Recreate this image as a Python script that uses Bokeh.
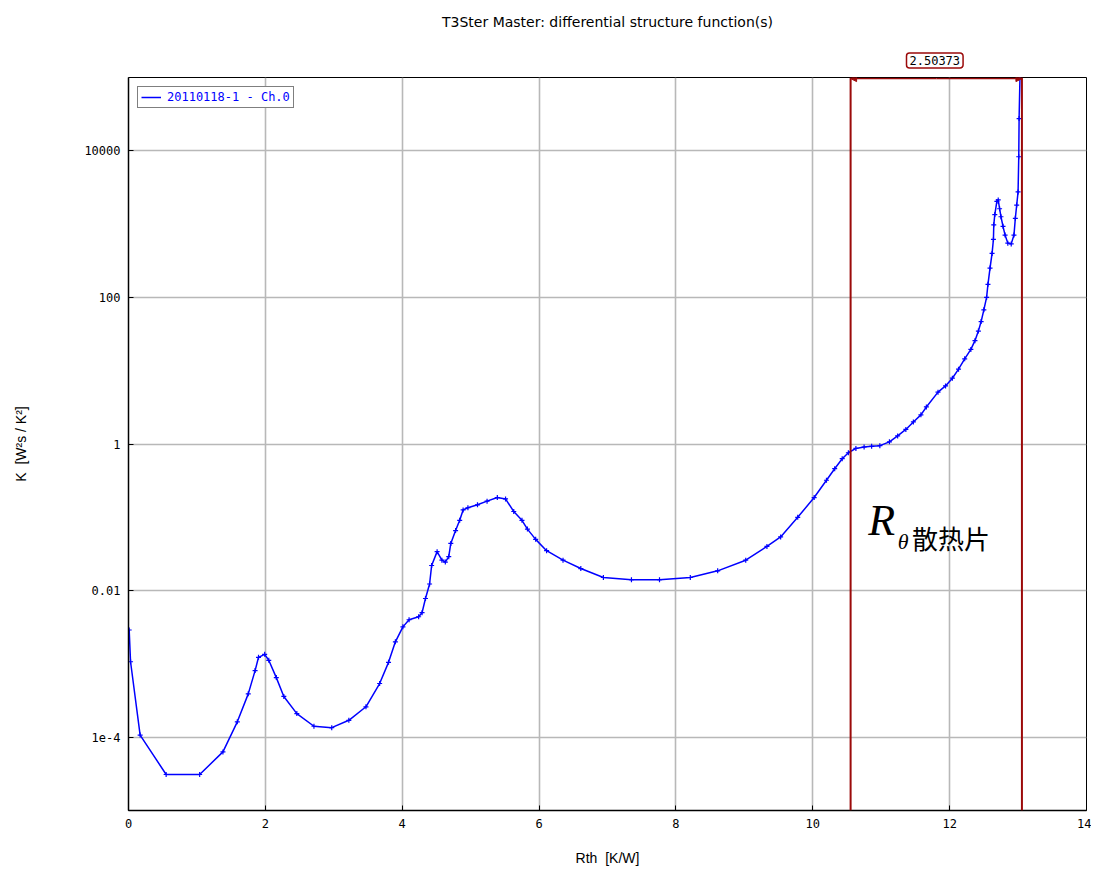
from bokeh.plotting import figure
from bokeh.models import (Range1d, FixedTicker, Span, Label, Title,
                          Arrow, NormalHead, Legend, LegendItem, ColumnDataSource)
from bokeh.embed import file_html
from bokeh.resources import INLINE

# ---------------- data ----------------
rth = [0.01, 0.03, 0.17, 0.55, 1.04, 1.38, 1.59, 1.75, 1.85, 1.90, 1.99, 2.05, 2.16, 2.27,
       2.46, 2.71, 2.97, 3.22, 3.47, 3.67, 3.80, 3.90, 4.01, 4.10, 4.24, 4.29, 4.34, 4.40,
       4.43, 4.51, 4.58, 4.63, 4.68, 4.71, 4.78, 4.84, 4.89, 4.96, 5.10, 5.24, 5.39, 5.51,
       5.63, 5.75, 5.83, 5.95, 6.11, 6.35, 6.61, 6.94, 7.35, 7.76, 8.21, 8.61, 9.02, 9.33,
       9.53, 9.78, 10.02, 10.20, 10.32, 10.43, 10.52, 10.63, 10.75, 10.86, 10.98, 11.12,
       11.24, 11.36, 11.47, 11.58, 11.66, 11.83, 11.94, 12.04, 12.13, 12.22, 12.31, 12.37,
       12.42, 12.46, 12.50, 12.54, 12.56, 12.59, 12.62, 12.64, 12.645, 12.66, 12.69, 12.71,
       12.73, 12.75, 12.78, 12.81, 12.85, 12.90, 12.94, 12.96, 12.98, 13.00, 13.01, 13.015,
       13.03]
k_val = [2.9e-3, 1.07e-3, 1.07e-4, 3.1e-5, 3.1e-5, 6.3e-5, 1.62e-4, 3.9e-4, 8.1e-4, 1.23e-3,
         1.35e-3, 1.12e-3, 6.5e-4, 3.6e-4, 2.1e-4, 1.41e-4, 1.35e-4, 1.7e-4, 2.6e-4, 5.4e-4,
         1.05e-3, 2.0e-3, 3.2e-3, 4.0e-3, 4.4e-3, 5.0e-3, 7.8e-3, 1.23e-2, 2.2e-2, 3.4e-2,
         2.6e-2, 2.45e-2, 2.9e-2, 4.4e-2, 6.6e-2, 9.1e-2, 0.126, 0.135, 0.148, 0.166, 0.186,
         0.178, 0.12, 0.091, 0.069, 0.050, 0.035, 0.026, 0.020, 0.0151, 0.0141, 0.0141,
         0.0151, 0.0186, 0.026, 0.040, 0.054, 0.10, 0.186, 0.32, 0.46, 0.63, 0.76, 0.87,
         0.91, 0.93, 0.95, 1.07, 1.29, 1.58, 2.0, 2.5, 3.2, 5.1, 6.2, 7.9, 10.5, 14.5, 19.5,
         25.7, 34.7, 46.8, 67.6, 100, 151, 251, 398, 617, 977, 1350, 2040, 2140, 1620, 1260,
         933, 708, 550, 537, 708, 1200, 1820, 2750, 8300, 27500, 126000]

series_label = "20110118-1 - Ch.0"
x_ticks = [0, 2, 4, 6, 8, 10, 12, 14]
y_ticks = [1e-4, 1e-2, 1, 100, 10000]
y_tick_labels = ["1e-4", "0.01", "1", "100", "10000"]
cursor_positions = [10.5527, 13.0564]
cursor_delta_text = ["2.50373"]
title_text = "T3Ster Master: differential structure function(s)"
x_label = "Rth\u00a0\u00a0[K/W]"
y_label = "K\u00a0\u00a0[W²s / K²]"

# ---------------- figure ----------------
RED = "#9b0a0a"
BLUE = "#0000ff"
MONO = "DejaVu Sans Mono"
SANS = "Liberation Sans"

p = figure(width=1091, height=868, x_range=Range1d(0, 14), y_range=Range1d(1e-5, 1e5),
           y_axis_type="log", output_backend="svg", toolbar_location=None,
           min_border_left=128, min_border_right=5, min_border_top=76, min_border_bottom=56)
p.background_fill_color = "white"
p.border_fill_color = "white"
p.outline_line_color = "black"
p.outline_line_width = 1

# cursor delta box (placed above the frame, next to it)
box_title = Title(text=cursor_delta_text[0], align="left", offset=778, standoff=19,
                  text_font=MONO, text_font_size="12px", text_font_style="normal",
                  text_color="black", border_line_color=RED, border_line_width=1.5,
                  background_fill_color="white", padding=3, border_radius=3)
p.add_layout(box_title, "above")
main_title = Title(text=title_text, align="center", offset=-26, standoff=23,
                   text_font="DejaVu Sans", text_font_size="14px", text_font_style="normal",
                   text_color="black")
p.add_layout(main_title, "above")

# axes
xa = p.xaxis[0]
xa.ticker = FixedTicker(ticks=x_ticks)
ya = p.yaxis[0]
ya.ticker = FixedTicker(ticks=y_ticks)
ya.major_label_overrides = dict(zip(y_ticks, y_tick_labels))
for ax in (xa, ya):
    ax.major_tick_in = 5
    ax.major_tick_out = 0
    ax.minor_tick_line_color = None
    ax.axis_line_color = "black"
    ax.axis_line_width = 1.5
    ax.major_tick_line_color = "black"
    ax.major_label_text_font = MONO
    ax.major_label_text_font_size = "12px"
    ax.major_label_text_color = "black"
    ax.axis_label_text_font = SANS
    ax.axis_label_text_font_size = "14px"
    ax.axis_label_text_font_style = "normal"
    ax.axis_label_text_color = "black"
xa.axis_label = x_label
xa.major_label_standoff = 8
xa.axis_label_standoff = 19
ya.axis_label = y_label
ya.major_label_standoff = 8
ya.axis_label_standoff = 52

# grid
p.xgrid.ticker = FixedTicker(ticks=x_ticks)
p.ygrid.ticker = FixedTicker(ticks=y_ticks)
for g in (p.xgrid[0], p.ygrid[0]):
    g.grid_line_color = "#b8b8b8"
    g.grid_line_width = 1.6

# data
src = ColumnDataSource(dict(x=rth, y=k_val))
line_r = p.line("x", "y", source=src, line_color=BLUE, line_width=1.5)
p.scatter("x", "y", source=src, marker="cross", size=5, line_color=BLUE, line_width=1.2)

# cursors
for c in cursor_positions:
    p.add_layout(Span(location=c, dimension="height", line_color=RED, line_width=2))
dim_y = 10 ** 4.985
mid_x = sum(cursor_positions) / 2
for c in cursor_positions:
    p.add_layout(Arrow(x_start=mid_x, y_start=dim_y, x_end=c, y_end=dim_y,
                       end=NormalHead(size=6, fill_color=RED, line_color=RED),
                       line_color=RED, line_width=1.5))

# annotation R_theta
p.add_layout(Label(x=10.81, y=10 ** -1.05, text="R", text_font="Liberation Serif",
                   text_font_style="italic", text_font_size="44px", text_color="black",
                   text_baseline="middle"))
p.add_layout(Label(x=11.24, y=10 ** -1.33, text="θ", text_font="Liberation Serif",
                   text_font_style="italic", text_font_size="22px", text_color="black",
                   text_baseline="middle"))
p.add_layout(Label(x=11.45, y=10 ** -1.28, text="散热片", text_font="Noto Sans CJK SC",
                   text_font_size="26px", text_color="black", text_baseline="middle"))

# legend
legend = Legend(items=[LegendItem(label=series_label, renderers=[line_r])],
                location="top_left", margin=9, padding=3, spacing=0,
                border_line_color="black", border_line_width=1.5,
                label_text_color=BLUE, label_text_font=MONO, label_text_font_size="12px",
                glyph_width=20, glyph_height=12, label_height=12, label_standoff=6,
                background_fill_color="white", background_fill_alpha=1)
p.add_layout(legend)

open("out.html", "w").write(file_html(p, INLINE))
